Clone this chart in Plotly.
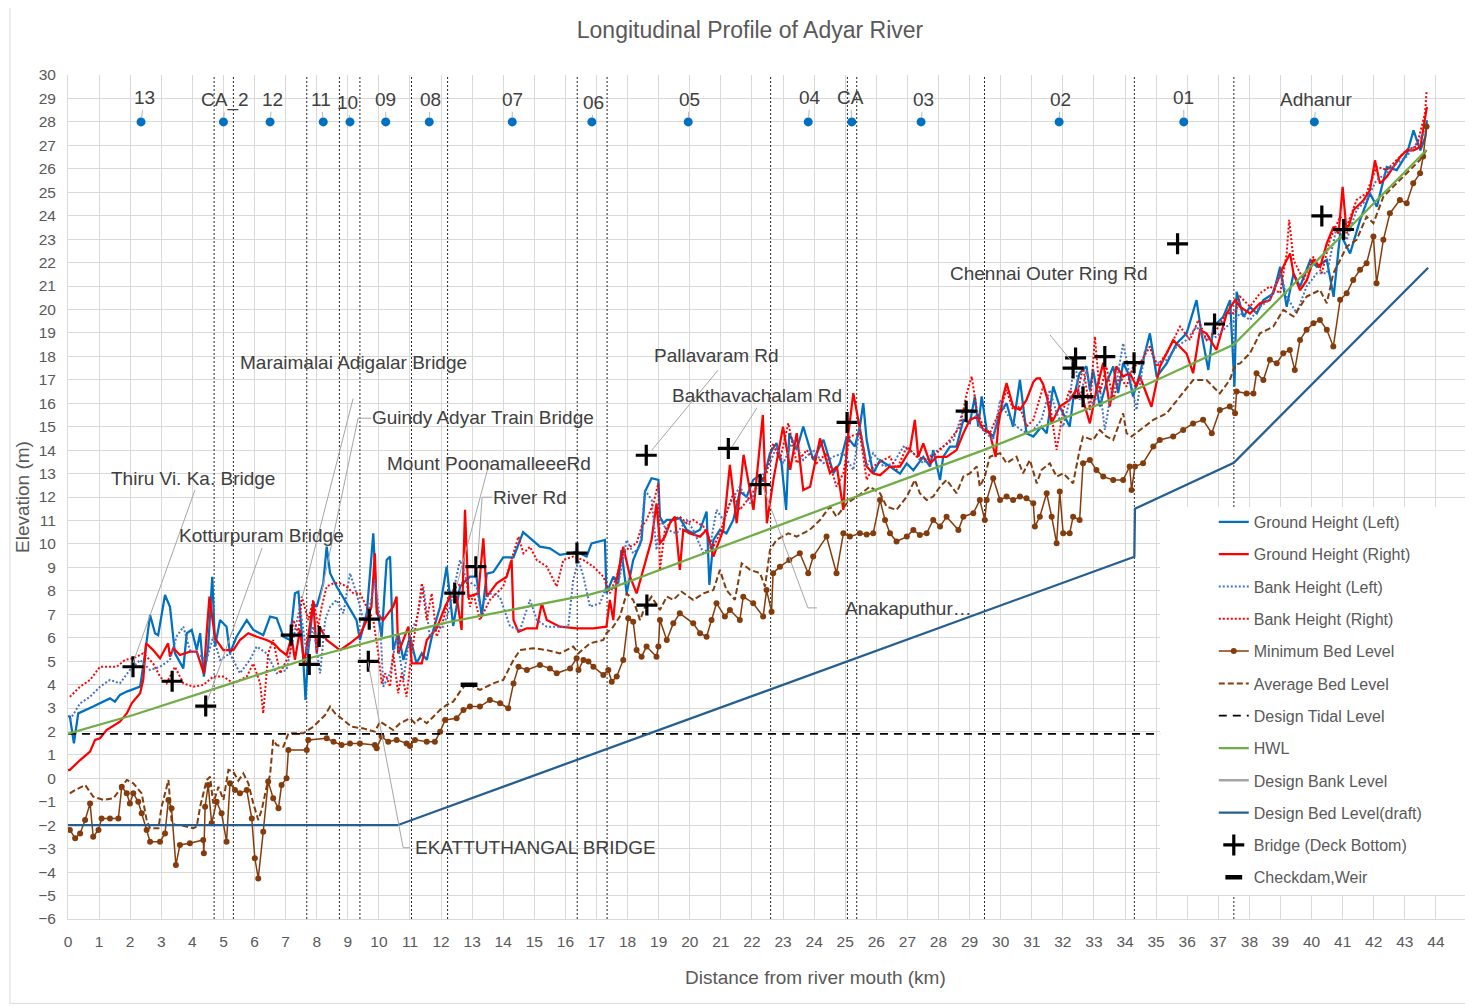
import plotly.graph_objects as go

# ---------------- data (distance km, elevation m) ----------------
gl_km = [0.0, 0.06, 0.19, 0.33, 0.81, 1.35, 1.51, 1.67, 1.89, 2.32, 2.48, 2.64, 2.80, 2.90, 3.12, 3.28, 3.44, 3.71, 3.82, 3.98,
         4.14, 4.25, 4.37, 4.51, 4.64, 4.73, 4.89, 5.10, 5.21, 5.42, 5.75, 5.96, 6.28, 6.50, 6.71, 6.93, 7.14, 7.30, 7.41, 7.52,
         7.64, 7.73, 7.89, 8.00, 8.21, 8.32, 8.43, 8.64, 8.96, 9.28, 9.39, 9.61, 9.82, 9.93, 10.09, 10.25, 10.36, 10.46, 10.62, 10.79,
         11.00, 11.21, 11.38, 11.54, 11.75, 11.97, 12.18, 12.39, 12.61, 12.93, 13.14, 13.31, 13.47, 13.68, 14.00, 14.33, 14.64, 15.18, 15.50, 15.82,
         16.15, 16.36, 16.68, 16.84, 17.27, 17.32, 17.54, 17.70, 17.80, 17.97, 18.18, 18.45, 18.56, 18.77, 18.99, 19.04, 19.15, 19.26, 19.47, 19.68,
         19.90, 20.11, 20.33, 20.54, 20.63, 20.76, 20.97, 21.18, 21.40, 21.61, 21.83, 22.04, 22.26, 22.36, 22.58, 22.79, 22.95, 23.10, 23.20, 23.44,
         23.65, 23.97, 24.30, 24.62, 24.83, 25.05, 25.31, 25.47, 25.58, 25.69, 25.90, 26.12, 26.44, 26.76, 26.98, 27.19, 27.51, 27.73, 27.83, 28.05,
         28.15, 28.37, 28.58, 28.80, 29.01, 29.17, 29.28, 29.39, 29.55, 29.76, 29.98, 30.19, 30.40, 30.62, 30.83, 31.05, 31.31, 31.48, 31.69, 31.90,
         32.22, 32.33, 32.54, 32.76, 32.87, 32.97, 33.19, 33.40, 33.62, 33.78, 33.94, 34.10, 34.26, 34.48, 34.80, 35.02, 35.34, 35.66, 35.98, 36.30,
         36.46, 36.68, 36.84, 37.16, 37.38, 37.52, 37.59, 37.81, 38.02, 38.24, 38.45, 38.77, 38.99, 39.20, 39.42, 39.63, 39.96, 40.17, 40.49, 40.71,
         40.92, 41.24, 41.56, 41.88, 42.10, 42.42, 42.74, 43.07, 43.28, 43.50, 43.66, 43.71]
gl_el = [2.65, 2.63, 1.49, 2.77, 3.06, 3.41, 3.27, 3.56, 3.70, 3.91, 5.33, 6.97, 6.19, 6.11, 7.82, 7.32, 5.33, 4.69, 6.19, 6.33,
         5.47, 6.19, 4.34, 5.62, 8.60, 5.62, 6.75, 6.47, 5.33, 6.04, 6.75, 6.33, 6.11, 6.90, 6.83, 6.04, 5.90, 7.89, 7.96, 6.19,
         3.34, 5.47, 7.47, 7.32, 8.32, 9.88, 8.75, 8.18, 7.47, 6.75, 5.90, 7.04, 10.45, 7.32, 6.04, 9.31, 9.46, 5.47, 6.19, 5.05,
         6.04, 4.91, 5.33, 5.05, 6.33, 7.32, 9.03, 6.50, 8.18, 8.60, 8.60, 6.90, 8.73, 8.80, 9.43, 9.43, 10.50, 9.88, 9.81, 9.53,
         9.60, 9.67, 9.46, 10.02, 10.17, 7.89, 8.60, 8.32, 9.74, 7.89, 9.31, 10.17, 12.23, 12.80, 12.73, 11.16, 10.88, 11.02, 11.02, 11.10,
         10.60, 10.45, 10.60, 11.38, 8.25, 10.17, 10.60, 10.45, 11.02, 12.23, 12.01, 12.73, 12.94, 12.66, 13.87, 14.30, 13.45, 11.45, 14.72, 14.01,
         15.00, 13.59, 14.44, 13.02, 13.45, 14.58, 14.15, 15.00, 16.00, 14.43, 13.00, 13.57, 13.30, 13.00, 13.43, 13.14, 13.71, 13.30, 14.00, 12.72,
         13.71, 14.15, 14.15, 15.29, 15.15, 16.29, 15.00, 16.29, 14.86, 14.58, 15.58, 16.00, 15.00, 17.00, 14.72, 14.58, 15.00, 14.72, 16.72, 15.86,
         15.00, 16.14, 17.29, 17.57, 16.57, 17.43, 15.86, 16.86, 17.57, 16.43, 17.72, 17.29, 16.29, 17.28, 18.98, 17.13, 17.70, 18.55, 18.98, 20.40,
         18.98, 17.42, 19.26, 19.69, 20.40, 16.71, 20.75, 19.69, 20.11, 19.83, 20.40, 20.68, 21.82, 20.11, 21.53, 20.97, 22.11, 21.82, 22.11, 20.54,
         23.24, 22.39, 23.81, 24.95, 24.38, 26.08, 25.94, 26.65, 27.64, 26.79, 27.36, 28.07]

gr_km = [0.0, 0.06, 0.39, 0.71, 0.87, 1.03, 1.24, 1.67, 1.89, 2.05, 2.32, 2.42, 2.51, 2.74, 2.96, 3.22, 3.28, 3.39, 3.60, 3.92,
         4.14, 4.37, 4.46, 4.55, 4.73, 5.00, 5.32, 5.53, 5.80, 6.07, 6.39, 6.61, 6.82, 7.03, 7.19, 7.30, 7.46, 7.60, 7.89, 8.00,
         8.10, 8.32, 8.75, 9.07, 9.39, 9.61, 9.76, 9.87, 9.93, 10.14, 10.46, 10.57, 10.62, 10.79, 10.95, 11.06, 11.38, 11.54, 11.86, 12.13,
         12.29, 12.50, 12.66, 12.77, 12.88, 13.20, 13.36, 13.47, 13.79, 14.11, 14.27, 14.33, 14.49, 14.76, 15.08, 15.24, 15.40, 15.82, 16.36, 16.89,
         17.32, 17.43, 17.54, 17.65, 17.86, 18.08, 18.29, 18.56, 18.77, 18.93, 19.04, 19.20, 19.36, 19.52, 19.68, 19.79, 20.00, 20.33, 20.54, 20.76,
         21.08, 21.29, 21.51, 21.73, 22.05, 22.35, 22.48, 22.69, 23.00, 23.23, 23.44, 23.65, 23.87, 24.19, 24.51, 24.73, 24.94, 25.05, 25.26, 25.48,
         25.69, 25.90, 26.12, 26.44, 26.76, 27.08, 27.24, 27.35, 27.51, 27.73, 27.94, 28.26, 28.58, 28.80, 29.01, 29.23, 29.44, 29.65, 29.84, 29.92,
         30.08, 30.19, 30.40, 30.62, 30.83, 31.05, 31.15, 31.26, 31.37, 31.48, 31.64, 31.90, 32.22, 32.44, 32.65, 32.87, 33.08, 33.30, 33.51, 33.72,
         33.94, 34.15, 34.37, 34.48, 34.85, 35.12, 35.55, 35.98, 36.19, 36.41, 36.62, 36.94, 37.27, 37.54, 37.70, 38.02, 38.34, 38.66, 38.88, 39.09,
         39.31, 39.42, 39.63, 39.85, 40.06, 40.28, 40.49, 40.71, 40.87, 41.00, 41.13, 41.35, 41.67, 41.88, 42.04, 42.20, 42.42, 42.63, 42.85, 43.07,
         43.28, 43.50, 43.71]
gr_el = [0.35, 0.36, 0.78, 1.14, 1.64, 1.71, 2.06, 2.42, 2.77, 3.20, 3.63, 4.20, 5.76, 5.47, 5.12, 5.76, 5.19, 5.55, 5.26, 5.40,
         5.40, 4.48, 6.19, 7.75, 5.97, 5.47, 5.47, 5.90, 6.19, 6.04, 5.90, 5.76, 5.47, 5.26, 6.04, 5.05, 6.33, 4.90, 7.54, 5.33,
         6.47, 5.90, 5.47, 5.76, 6.10, 6.75, 7.32, 9.60, 7.04, 6.75, 7.32, 7.75, 5.33, 5.90, 6.47, 4.90, 4.90, 5.90, 6.40, 7.32,
         7.75, 7.75, 6.33, 11.45, 7.75, 7.89, 10.24, 7.75, 8.32, 8.60, 9.31, 6.75, 6.25, 6.40, 6.40, 7.47, 6.75, 6.47, 6.40, 6.40,
         6.47, 7.61, 6.75, 8.46, 9.88, 8.60, 7.89, 9.17, 10.17, 11.73, 10.02, 10.31, 10.88, 11.16, 8.89, 10.60, 10.45, 10.31, 10.60, 9.46,
         10.60, 13.37, 10.88, 13.80, 11.45, 15.50, 10.88, 12.73, 15.00, 13.16, 14.72, 12.30, 12.44, 14.50, 13.02, 13.30, 11.45, 14.15, 16.43, 14.86,
         13.30, 13.00, 12.93, 13.30, 13.30, 14.00, 15.29, 13.71, 14.29, 13.43, 13.71, 13.71, 14.00, 14.72, 15.29, 15.43, 14.86, 14.72, 13.71, 15.00,
         16.29, 16.86, 15.86, 15.72, 16.14, 16.90, 17.05, 17.07, 16.80, 16.29, 15.14, 15.86, 16.14, 16.57, 16.14, 15.14, 16.57, 17.72, 15.86, 17.57,
         17.14, 17.29, 16.72, 17.13, 15.85, 17.56, 18.69, 18.12, 17.28, 19.12, 18.98, 18.27, 19.83, 20.40, 20.11, 19.83, 20.26, 20.40, 21.11, 21.82,
         22.39, 21.53, 20.82, 21.25, 22.11, 21.82, 22.82, 23.53, 23.24, 25.23, 23.24, 24.24, 24.66, 25.09, 26.36, 25.37, 25.66, 26.08, 26.51, 26.79,
         26.79, 26.93, 28.64]

bl_km = [0.06, 0.39, 0.71, 1.03, 1.35, 1.67, 1.99, 2.32, 2.64, 2.96, 3.28, 3.49, 3.71, 3.92, 4.14, 4.46, 4.67, 4.89, 5.21, 5.53,
         5.85, 6.07, 6.39, 6.71, 7.03, 7.25, 7.46, 7.68, 7.89, 8.11, 8.27, 8.43, 8.64, 8.86, 9.07, 9.28, 9.50, 9.71, 9.87, 10.04,
         10.14, 10.36, 10.57, 10.79, 11.00, 11.21, 11.43, 11.64, 11.86, 12.07, 12.29, 12.61, 12.82, 13.14, 13.25, 13.57, 13.89, 14.22, 14.54, 14.86,
         15.08, 15.40, 15.82, 16.09, 16.25, 16.42, 16.58, 16.79, 17.11, 17.32, 17.54, 17.75, 17.97, 18.18, 18.40, 18.56, 18.77, 18.93, 19.04, 19.26,
         19.58, 19.90, 20.11, 20.44, 20.65, 20.86, 21.08, 21.29, 21.61, 21.94, 22.26, 22.58, 22.79, 23.01, 23.33, 23.65, 23.97, 24.29, 24.62, 24.94,
         25.26, 25.47, 25.69, 25.90, 26.23, 26.55, 26.87, 27.19, 27.51, 27.83, 28.15, 28.48, 28.80, 29.12, 29.33, 29.55, 29.76, 29.98, 30.19, 30.51,
         30.83, 31.05, 31.31, 31.58, 31.80, 32.01, 32.22, 32.38, 32.54, 32.76, 32.97, 33.19, 33.35, 33.51, 33.72, 33.94, 34.15, 34.37, 34.64, 34.80,
         35.02, 35.34, 35.66, 35.98, 36.30, 36.62, 36.94, 37.27, 37.54, 37.70, 38.02, 38.34, 38.66, 38.99, 39.20, 39.52, 39.84, 40.17, 40.49, 40.81,
         41.13, 41.45, 41.77, 42.09, 42.42, 42.74, 43.06, 43.38, 43.65, 43.70]
bl_el = [2.49, 3.20, 3.48, 3.91, 4.20, 4.05, 4.62, 5.05, 4.62, 4.76, 5.05, 6.04, 6.47, 5.47, 5.33, 5.05, 6.04, 5.05, 5.33, 4.48,
         5.05, 5.62, 5.33, 4.48, 4.62, 6.04, 7.32, 5.33, 6.47, 4.48, 6.75, 7.32, 7.61, 7.04, 8.75, 7.89, 6.75, 7.32, 8.46, 6.75,
         3.91, 4.48, 6.04, 4.20, 6.19, 6.75, 8.18, 6.04, 6.47, 6.47, 7.32, 9.31, 8.46, 8.18, 7.32, 7.89, 7.75, 6.47, 6.33, 7.61,
         6.75, 6.47, 6.47, 6.47, 8.46, 9.31, 8.60, 7.32, 7.47, 8.18, 8.03, 8.60, 10.17, 9.60, 9.88, 12.30, 11.88, 9.74, 11.02, 10.60,
         10.45, 11.02, 10.60, 9.60, 9.88, 11.45, 11.02, 11.73, 12.44, 11.73, 12.73, 13.44, 14.15, 13.44, 14.43, 13.58, 14.01, 13.44, 13.72, 13.87,
         13.15, 15.00, 13.30, 13.87, 13.30, 13.44, 14.15, 13.87, 13.44, 13.87, 14.15, 14.43, 15.71, 15.71, 15.00, 14.72, 14.43, 16.14, 15.57, 15.00,
         14.72, 14.86, 15.29, 16.57, 15.57, 15.00, 16.14, 17.99, 16.14, 17.42, 15.86, 16.71, 14.86, 16.14, 16.85, 18.56, 17.14, 15.71, 18.27, 18.40,
         17.70, 17.85, 18.42, 18.70, 19.27, 18.70, 18.84, 19.27, 19.55, 19.84, 19.55, 20.12, 20.41, 21.54, 20.55, 19.84, 20.98, 21.54, 21.54, 23.53,
         22.97, 24.25, 24.67, 25.52, 25.81, 26.24, 26.52, 27.09, 27.52, 27.66]

br_km = [0.06, 0.39, 0.71, 1.03, 1.57, 1.83, 2.10, 2.42, 2.74, 2.96, 3.17, 3.44, 3.71, 4.03, 4.35, 4.67, 5.00, 5.32, 5.75, 5.96,
         6.18, 6.28, 6.44, 6.60, 6.82, 7.14, 7.25, 7.41, 7.52, 7.73, 7.89, 8.05, 8.16, 8.32, 8.54, 8.75, 8.96, 9.18, 9.39, 9.61,
         9.82, 9.98, 10.09, 10.20, 10.36, 10.46, 10.62, 10.73, 10.89, 11.05, 11.27, 11.38, 11.54, 11.70, 11.86, 12.07, 12.29, 12.50, 12.82, 12.93,
         13.04, 13.25, 13.57, 14.00, 14.49, 14.65, 14.86, 15.08, 15.40, 15.72, 15.93, 16.25, 16.58, 16.90, 17.22, 17.43, 17.65, 17.86, 18.08, 18.29,
         18.45, 18.61, 18.83, 18.99, 19.04, 19.20, 19.42, 19.68, 19.90, 20.11, 20.44, 20.76, 20.97, 21.18, 21.40, 21.61, 21.94, 22.15, 22.47, 22.68,
         22.90, 23.17, 23.44, 23.76, 24.08, 24.40, 24.72, 24.94, 25.15, 25.47, 25.69, 25.90, 26.23, 26.44, 26.65, 26.98, 27.30, 27.62, 27.94, 28.37,
         28.69, 28.91, 29.07, 29.23, 29.44, 29.65, 29.98, 30.19, 30.40, 30.62, 30.83, 31.05, 31.37, 31.58, 31.80, 32.01, 32.22, 32.44, 32.65, 32.87,
         33.03, 33.19, 33.40, 33.62, 33.83, 34.05, 34.26, 34.48, 34.80, 35.02, 35.34, 35.77, 36.09, 36.36, 36.62, 36.94, 37.27, 37.54, 37.70, 38.02,
         38.34, 38.66, 38.99, 39.20, 39.28, 39.42, 39.74, 40.06, 40.33, 40.59, 40.92, 41.13, 41.45, 41.77, 42.09, 42.42, 42.74, 43.06, 43.38, 43.65,
         43.70]
br_el = [3.48, 3.91, 4.20, 4.76, 4.76, 5.05, 5.12, 5.33, 4.90, 4.34, 4.05, 4.76, 4.05, 3.91, 3.98, 4.34, 4.34, 4.05, 4.34, 4.90,
         4.05, 2.77, 5.33, 5.90, 4.48, 5.33, 6.75, 6.19, 7.75, 6.75, 7.61, 6.47, 7.32, 8.18, 8.32, 8.32, 8.18, 7.89, 7.89, 7.32,
         6.75, 5.33, 4.05, 4.48, 3.91, 5.33, 3.63, 4.48, 3.48, 5.33, 7.18, 8.32, 6.75, 7.89, 6.04, 6.75, 7.89, 8.18, 8.46, 7.32,
         7.89, 6.75, 7.61, 8.18, 10.31, 9.60, 9.88, 9.31, 9.03, 8.18, 9.31, 9.46, 9.31, 9.03, 8.60, 7.89, 8.60, 9.60, 9.88, 10.02,
         10.74, 11.02, 11.73, 12.59, 8.89, 10.60, 11.02, 11.16, 10.88, 11.02, 10.74, 9.88, 10.45, 11.31, 12.16, 11.45, 12.02, 12.44, 13.01, 14.29,
         13.58, 15.15, 13.44, 14.01, 13.44, 13.87, 12.44, 13.01, 14.58, 14.72, 12.73, 13.30, 13.58, 13.72, 13.15, 14.15, 13.72, 13.58, 13.87, 14.43,
         15.00, 16.42, 17.14, 15.71, 15.00, 14.72, 15.71, 16.57, 15.71, 15.86, 15.00, 15.29, 16.71, 16.00, 14.01, 15.71, 16.57, 16.14, 17.56, 15.71,
         18.84, 16.42, 17.56, 16.14, 17.14, 16.71, 17.56, 17.70, 18.42, 17.56, 18.13, 19.27, 18.70, 19.55, 18.70, 19.13, 19.84, 19.84, 20.55, 20.12,
         20.69, 20.98, 20.69, 22.40, 23.82, 22.11, 21.26, 22.25, 21.54, 22.97, 23.96, 23.53, 24.67, 24.96, 26.09, 25.95, 26.38, 26.81, 26.95, 28.37,
         29.30]

mb_km = [0.06, 0.23, 0.39, 0.55, 0.71, 0.81, 0.98, 1.08, 1.35, 1.62, 1.73, 1.89, 1.99, 2.10, 2.26, 2.37, 2.53, 2.64, 2.96, 3.12,
         3.23, 3.33, 3.47, 3.60, 3.92, 4.35, 4.37, 4.41, 4.51, 4.62, 4.78, 4.94, 5.10, 5.21, 5.37, 5.53, 5.75, 5.91, 6.01, 6.12,
         6.28, 6.44, 6.60, 6.77, 6.87, 7.03, 7.09, 7.68, 7.73, 8.32, 8.54, 8.80, 9.07, 9.39, 9.87, 9.93, 10.09, 10.30, 10.57, 10.89,
         11.00, 11.16, 11.54, 11.80, 11.97, 12.13, 12.50, 12.72, 12.93, 13.25, 13.57, 13.90, 14.16, 14.33, 14.49, 14.76, 15.18, 15.50, 15.72, 16.15,
         16.36, 16.42, 16.58, 16.74, 16.90, 17.22, 17.38, 17.49, 17.65, 17.86, 18.02, 18.18, 18.29, 18.45, 18.61, 18.93, 18.99, 19.04, 19.26, 19.47,
         19.68, 20.11, 20.33, 20.54, 20.70, 20.86, 21.13, 21.29, 21.61, 21.72, 22.04, 22.36, 22.47, 22.63, 22.68, 22.90, 23.20, 23.54, 23.81, 23.97,
         24.40, 24.72, 24.94, 25.15, 25.47, 25.69, 25.90, 26.12, 26.28, 26.44, 26.65, 26.98, 27.19, 27.40, 27.62, 27.83, 28.05, 28.26, 28.64, 28.80,
         29.12, 29.33, 29.49, 29.55, 29.76, 29.98, 30.19, 30.40, 30.62, 30.83, 31.05, 31.10, 31.26, 31.48, 31.64, 31.80, 31.90, 32.01, 32.22, 32.33,
         32.54, 32.65, 32.87, 33.08, 33.30, 33.62, 33.94, 34.15, 34.21, 34.32, 34.58, 34.91, 35.12, 35.55, 35.87, 36.19, 36.51, 36.79, 37.05, 37.37,
         37.54, 37.59, 37.91, 38.13, 38.23, 38.45, 38.66, 38.88, 39.09, 39.30, 39.46, 39.63, 39.84, 40.06, 40.27, 40.49, 40.70, 40.92, 41.13, 41.34,
         41.56, 41.77, 41.99, 42.09, 42.31, 42.52, 42.84, 43.06, 43.27, 43.49, 43.59, 43.70]
mb_el = [-2.20, -2.56, -2.35, -1.78, -1.07, -2.49, -2.20, -1.71, -1.71, -1.71, -0.36, -0.64, -1.07, -0.64, -1.00, -1.49, -2.20, -2.70, -2.70, -2.35,
         -0.92, -1.28, -3.70, -2.84, -2.77, -2.63, -3.20, -1.21, -0.28, -1.92, -1.00, -1.49, -2.70, -0.21, -0.50, -0.64, -0.50, -1.71, -3.41, -4.27,
         -2.28, -0.14, -0.85, -1.28, -0.28, 0.00, 1.21, 1.21, 1.64, 1.71, 1.56, 1.42, 1.49, 1.49, 1.42, 1.28, 1.78, 1.56, 1.64, 1.49,
         1.38, 1.64, 1.56, 1.56, 1.99, 2.49, 2.56, 2.92, 3.06, 3.06, 3.34, 3.20, 2.99, 4.05, 4.76, 4.62, 4.83, 4.69, 4.48, 4.69,
         5.12, 4.62, 5.05, 4.98, 4.76, 4.41, 4.62, 4.12, 4.34, 5.05, 6.83, 6.68, 5.47, 5.19, 5.62, 5.19, 5.62, 6.75, 5.90, 6.61,
         7.04, 6.61, 6.19, 6.04, 6.75, 7.47, 6.90, 7.18, 6.75, 7.75, 7.47, 6.90, 8.03, 7.11, 8.75, 9.03, 9.31, 9.60, 8.75, 9.46,
         10.31, 8.75, 10.45, 10.31, 10.45, 10.40, 10.45, 11.87, 11.02, 10.45, 10.10, 10.31, 10.59, 10.38, 10.45, 11.02, 10.74, 11.16, 10.59, 11.16,
         11.31, 11.87, 11.02, 11.87, 12.80, 11.87, 12.02, 11.87, 12.02, 11.95, 11.73, 10.74, 11.16, 12.16, 11.16, 10.03, 12.23, 10.45, 10.45, 11.16,
         11.02, 13.44, 13.58, 13.15, 12.87, 12.73, 12.73, 13.30, 12.30, 13.30, 13.44, 14.15, 14.43, 14.58, 14.86, 15.14, 15.29, 14.72, 15.71, 15.86,
         15.57, 16.50, 16.42, 16.42, 17.28, 16.99, 17.85, 17.70, 18.13, 18.27, 17.42, 18.70, 19.13, 19.41, 19.55, 19.13, 18.42, 20.41, 20.69, 21.26,
         21.69, 21.97, 23.11, 21.12, 22.97, 24.10, 24.67, 24.53, 25.38, 25.81, 26.52, 27.80]

ab_km = [0.06, 0.23, 0.55, 0.81, 1.14, 1.46, 1.78, 1.89, 2.10, 2.37, 2.53, 2.64, 2.91, 3.01, 3.15, 3.23, 3.33, 3.44, 3.60, 4.03,
         4.14, 4.25, 4.46, 4.57, 4.67, 4.84, 5.00, 5.16, 5.32, 5.48, 5.64, 5.80, 5.96, 6.12, 6.23, 6.39, 6.50, 6.60, 6.71, 6.93,
         7.09, 7.57, 7.89, 8.10, 8.27, 8.43, 8.59, 8.86, 9.12, 9.50, 9.87, 10.04, 10.20, 10.46, 10.68, 11.00, 11.16, 11.32, 11.54, 11.75,
         11.97, 12.18, 12.39, 12.61, 12.82, 13.04, 13.25, 13.68, 14.00, 14.33, 14.54, 14.97, 15.40, 15.82, 16.25, 16.42, 16.79, 17.22, 17.32, 17.54,
         17.75, 17.97, 18.18, 18.40, 18.56, 18.77, 19.04, 19.26, 19.47, 19.74, 20.11, 20.44, 20.76, 20.97, 21.18, 21.45, 21.67, 21.94, 22.26, 22.42,
         22.58, 22.79, 23.17, 23.44, 23.86, 24.19, 24.51, 24.72, 25.05, 25.47, 25.79, 26.12, 26.33, 26.65, 26.98, 27.24, 27.40, 27.62, 27.83, 28.05,
         28.26, 28.58, 28.80, 29.01, 29.23, 29.33, 29.49, 29.65, 29.98, 30.19, 30.51, 30.72, 30.94, 31.16, 31.31, 31.58, 31.80, 32.01, 32.33, 32.54,
         32.65, 32.97, 33.19, 33.40, 33.62, 33.94, 34.05, 34.21, 34.48, 34.91, 35.34, 35.77, 36.19, 36.62, 37.05, 37.37, 37.54, 37.70, 38.02, 38.34,
         38.77, 39.09, 39.42, 39.63, 39.84, 40.06, 40.27, 40.49, 40.70, 40.92, 41.13, 41.45, 41.77, 41.99, 42.31, 42.63, 42.95, 43.27, 43.49, 43.70]
ab_el = [-0.64, -0.50, -0.28, -0.78, -0.92, -0.85, -0.28, -0.07, -0.21, -0.64, -1.78, -2.13, -2.13, -1.21, -0.50, -0.07, -1.78, -1.99, -1.99, -2.13,
         -2.06, -1.21, -0.07, 0.07, -1.07, -0.36, -0.92, 0.36, 0.28, -0.10, 0.21, -0.21, -1.07, -1.78, -1.35, -0.36, 0.14, 1.64, 1.42, 1.35,
         1.92, 1.92, 2.20, 2.49, 2.70, 3.06, 2.77, 2.49, 2.20, 2.13, 1.99, 2.42, 2.28, 2.06, 2.35, 2.56, 2.35, 2.56, 2.35, 2.63,
         2.92, 3.13, 3.27, 3.70, 4.05, 3.91, 3.77, 4.05, 4.20, 5.05, 5.47, 5.55, 5.47, 5.33, 5.62, 5.33, 5.76, 5.90, 6.19, 6.47,
         6.90, 7.89, 7.61, 6.75, 7.32, 7.75, 7.18, 7.75, 7.61, 7.96, 7.61, 7.89, 8.03, 8.89, 8.03, 7.61, 9.17, 8.89, 8.75, 8.18,
         9.74, 10.17, 10.45, 10.31, 10.60, 11.02, 11.59, 11.16, 11.73, 12.10, 12.44, 12.16, 11.59, 11.45, 12.02, 12.73, 12.16, 11.87, 12.02, 12.44,
         12.73, 12.16, 12.87, 13.01, 13.30, 12.44, 12.87, 13.72, 13.87, 13.44, 13.72, 13.01, 13.58, 12.58, 13.15, 13.44, 12.87, 13.01, 12.58, 14.01,
         14.58, 14.43, 14.86, 14.58, 14.43, 15.57, 14.72, 14.58, 14.86, 15.29, 15.57, 16.28, 16.99, 16.99, 16.42, 16.99, 17.63, 17.70, 18.13, 18.98,
         19.27, 19.98, 19.70, 20.12, 20.55, 20.69, 20.83, 20.26, 21.54, 22.11, 22.68, 22.97, 23.96, 23.68, 24.81, 25.24, 25.67, 26.09, 26.38, 26.81]

tidal_km = [0.0, 44.0]
tidal_el = [1.9, 1.9]

hwl_km = [0.0, 2.1, 5.3, 7.7, 10.2, 12.2, 16.8, 17.3, 20.75, 22.6, 25.05, 26.1, 29.45, 34.3, 37.5, 40.0, 43.7]
hwl_el = [1.9, 2.7, 4.07, 5.1, 6.0, 6.65, 7.85, 8.03, 9.74, 10.67, 11.87, 12.37, 14.0, 16.55, 18.5, 21.85, 26.8]

dbed_km = [0.0, 10.6, 34.3, 34.32, 37.5, 43.75]
dbed_el = [-2.0, -2.0, 9.45, 11.5, 13.46, 21.78]

bridge_km = [2.09, 3.35, 4.43, 7.18, 7.76, 8.08, 9.69, 9.66, 12.44, 13.12, 16.37, 18.60, 18.62, 21.24, 22.26, 25.06,
             28.89, 32.33, 32.41, 32.65, 33.35, 34.29, 35.69, 36.88, 40.33, 41.03]
bridge_el = [4.76, 4.14, 3.08, 6.11, 4.86, 6.05, 6.79, 4.99, 7.90, 9.03, 9.61, 13.78, 7.39, 14.07, 12.53, 15.18,
             15.66, 17.50, 17.93, 16.28, 17.99, 17.73, 22.80, 19.38, 23.99, 23.41]

checkdam_km = [12.9]
checkdam_el = [3.99]

section_km = [4.70, 5.32, 7.68, 8.73, 9.39, 11.05, 12.21, 16.38, 17.34, 22.60, 25.07, 25.37, 29.48, 34.30, 37.50]

station_names = ["13", "CA_2", "12", "11", "10", "09", "08", "07", "06", "05", "04", "CA", "03", "02", "01", "Adhanur"]
station_km = [2.35, 5.00, 6.50, 8.21, 9.07, 10.22, 11.62, 14.29, 16.85, 19.95, 23.81, 25.21, 27.44, 31.88, 35.89, 40.09]
station_el = [28.0] * 16

callout_names = ["Thiru Vi. Ka. Bridge", "Kotturpuram Bridge", "Maraimalai Adigalar Bridge", "Guindy Adyar Train Bridge",
                 "Mount PoonamalleeeRd", "River Rd", "Pallavaram Rd", "Bakthavachalam Rd", "Anakaputhur…",
                 "EKATTUTHANGAL BRIDGE", "Chennai Outer Ring Rd"]

FONT = "Liberation Sans, Arial, sans-serif"
TXT = "#595959"
DARK = "#404040"

fig = go.Figure()

# section boundaries (dotted verticals)
vx, vy = [], []
for s in section_km:
    vx += [s, s, None]
    vy += [-6, 30, None]
fig.add_trace(go.Scatter(x=vx, y=vy, mode="lines", showlegend=False, hoverinfo="skip",
                         line=dict(color="#262626", width=1, dash="2px,2px")))

def add(name, x, y, rank, **kw):
    fig.add_trace(go.Scatter(x=x, y=y, name=name, legendgroup=name, legendrank=rank, **kw))

add("Ground Height (Left)", gl_km, gl_el, 1, mode="lines", line=dict(color="#0070C0", width=2.25))
add("Ground Height (Right)", gr_km, gr_el, 2, mode="lines", line=dict(color="#FF0000", width=2.25))
add("Bank Height (Left)", bl_km, bl_el, 3, mode="lines", line=dict(color="#4472C4", width=2, dash="2px,2px"))
add("Bank Height (Right)", br_km, br_el, 4, mode="lines", line=dict(color="#FF0000", width=2, dash="2px,2px"))
add("Minimum Bed Level", mb_km, mb_el, 5, mode="lines+markers",
    line=dict(color="#843C0C", width=1.5), marker=dict(size=6, color="#843C0C"))
add("Average Bed Level", ab_km, ab_el, 6, mode="lines", line=dict(color="#843C0C", width=2, dash="6px,3px"))
add("Design Tidal Level", tidal_km, tidal_el, 7, mode="lines", line=dict(color="#000000", width=1.75, dash="8px,6px"))
add("HWL", hwl_km, hwl_el, 8, mode="lines", line=dict(color="#70AD47", width=2.25))
add("Design Bank Level", [None], [None], 9, mode="lines", line=dict(color="#A5A5A5", width=2.5))
add("Design Bed Level(draft)", dbed_km, dbed_el, 10, mode="lines", line=dict(color="#255E91", width=2.25))
add("Bridge (Deck Bottom)", bridge_km, bridge_el, 11, mode="markers",
    marker=dict(symbol="cross-thin", size=15, color="black", line=dict(width=3.2, color="black")))
add("Checkdam,Weir", checkdam_km, checkdam_el, 12, mode="markers",
    marker=dict(symbol="line-ew", size=12, color="black", line=dict(width=4.5, color="black")))

# station markers
fig.add_trace(go.Scatter(x=station_km, y=station_el, mode="markers", showlegend=False,
                         marker=dict(size=9, color="#0070C0")))

annotations = []
st_dx = [3, 2, 2, -2, -2, 0, 1, 0, 2, 1, 2, -1, 2, 1, 0, 2]
st_dy = [-24, -22, -22, -22, -19, -22, -22, -22, -19, -22, -24, -24, -22, -22, -24, -22]
for n, xk, yk, dx, dy in zip(station_names, station_km, station_el, st_dx, st_dy):
    annotations.append(dict(x=xk, y=yk, xref="x", yref="y", text=n, showarrow=True, ax=dx, ay=dy,
                            arrowhead=0, arrowwidth=0.8, arrowcolor="#A6A6A6", standoff=4,
                            font=dict(family=FONT, size=19, color=DARK)))

callout_pos = [(4.02, 12.81), (6.24, 10.34), (9.17, 17.72), (13.35, 15.37), (13.54, 13.45), (14.86, 12.0),
               (20.87, 18.02), (22.16, 16.35), (27.05, 7.26), (15.05, -2.97), (31.55, 21.52)]
for n, (xk, yk) in zip(callout_names, callout_pos):
    annotations.append(dict(x=xk, y=yk, xref="x", yref="y", text=n, showarrow=False,
                            xanchor="center", yanchor="middle",
                            font=dict(family=FONT, size=19, color=DARK)))

leaders = [
    [(4.085, 12.30), (2.09, 4.92)],
    [(6.24, 9.82), (4.47, 3.25)],
    [(9.17, 16.2), (7.53, 7.69)],
    [(9.75, 15.36), (9.33, 15.36), (8.10, 7.60)],
    [(13.57, 13.55), (12.51, 8.25)],
    [(13.64, 11.99), (13.32, 11.99), (13.16, 9.01)],
    [(20.91, 17.41), (18.78, 14.0)],
    [(22.16, 15.8), (21.36, 14.14)],
    [(24.09, 7.27), (23.80, 7.27), (22.35, 12.46)],
    [(11.0, -2.96), (10.78, -2.96), (9.65, 4.97)],
    [(31.59, 18.91), (32.30, 17.76)],
]
shapes = []
for pts in leaders:
    path = "M " + " L ".join(f"{a},{b}" for a, b in pts)
    shapes.append(dict(type="path", path=path, xref="x", yref="y", layer="above",
                       line=dict(color="#A6A6A6", width=1)))

# legend background (covers gridlines like the original)
shapes.append(dict(type="rect", xref="paper", yref="paper", x0=0.7806, x1=1.01, y0=0.0284, y1=0.4882,
                   fillcolor="white", line=dict(width=0), layer="above"))
# chart outer border
shapes.append(dict(type="rect", xref="paper", yref="paper", x0=-0.0415, x1=1.02, y0=-0.1, y1=1.083,
                   fillcolor="rgba(0,0,0,0)", line=dict(color="#D9D9D9", width=1), layer="below"))

# axis titles
annotations.append(dict(x=0.534, y=-0.0699, xref="paper", yref="paper", text="Distance from river mouth (km)",
                        showarrow=False, xanchor="center", yanchor="middle",
                        font=dict(family=FONT, size=19, color=TXT)))
annotations.append(dict(x=-0.0329, y=0.5, xref="paper", yref="paper", text="Elevation (m)", textangle=-90,
                        showarrow=False, xanchor="center", yanchor="middle",
                        font=dict(family=FONT, size=19, color=TXT)))

# page body has an 8px margin: figure is sized so that it ends at the window edge
fig.update_layout(
    width=1465, height=999,
    margin=dict(l=60, r=6, t=67, b=88),
    paper_bgcolor="white", plot_bgcolor="white",
    font=dict(family=FONT, color=TXT),
    title=dict(text="Longitudinal Profile of Adyar River", x=0.4875, xref="paper", xanchor="center",
               y=0.978, yanchor="middle", font=dict(family=FONT, size=23, color=TXT)),
    xaxis=dict(range=[0, 45], dtick=1, tick0=0, showgrid=True, gridcolor="#D9D9D9", gridwidth=1,
               zeroline=False, showline=True, linecolor="#D9D9D9", ticks="", ticklabelstandoff=8,
               tickfont=dict(family=FONT, size=15.5, color=TXT)),
    yaxis=dict(range=[-6, 30], dtick=1, tick0=0, showgrid=True, gridcolor="#D9D9D9", gridwidth=1,
               zeroline=False, showline=True, linecolor="#D9D9D9", ticks="", ticklabelstandoff=8,
               tickfont=dict(family=FONT, size=15.5, color=TXT)),
    legend=dict(x=0.819, y=0.4905, xanchor="left", yanchor="top", bgcolor="rgba(0,0,0,0)",
                font=dict(family=FONT, size=16, color=TXT), tracegroupgap=8.5, traceorder="grouped"),
    annotations=annotations,
    shapes=shapes,
    showlegend=True,
)

fig.write_html("out.html")
